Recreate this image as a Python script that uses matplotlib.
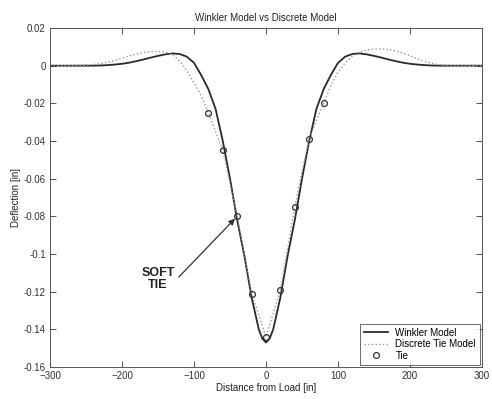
"""
Winkler foundation model vs discrete tie model: rail deflection under a point load
"""

import matplotlib
matplotlib.use("Agg")
import matplotlib.pyplot as plt
from matplotlib.ticker import FuncFormatter

plt.rcParams['font.family'] = ['Liberation Sans', 'DejaVu Sans']

# Winkler model (continuous support)
winkler_x = [-300, -290, -280, -270, -260, -250, -240, -230, -220, -210,
             -200, -190, -180, -170, -160, -150, -140, -130, -120, -110,
             -100, -90, -80, -70, -60, -50, -40, -30, -20, -10, -5,
             0, 5, 10, 20, 30, 40, 50, 60, 70, 80, 90,
             100, 110, 120, 130, 140, 150, 160, 170, 180, 190,
             200, 210, 220, 230, 240, 250, 260, 270, 280, 290, 300]
winkler_y = [0, 0, 0, 0, 0, 0, 0, 0.0001, 0.0003, 0.0006,
             0.0010, 0.0016, 0.0024, 0.0033, 0.0043, 0.0052, 0.0060, 0.0065, 0.0062, 0.0048,
             0.0015, -0.005, -0.0125, -0.023, -0.040, -0.060, -0.082, -0.101, -0.123, -0.140, -0.145,
             -0.147, -0.145, -0.140, -0.123, -0.101, -0.082, -0.060, -0.040, -0.023, -0.0125, -0.005,
             0.0015, 0.0048, 0.0062, 0.0065, 0.0060, 0.0052, 0.0043, 0.0033, 0.0024, 0.0016,
             0.0010, 0.0006, 0.0003, 0.0001, 0, 0, 0, 0, 0, 0, 0]

# discrete tie model (soft tie at -40 in)
discrete_x = list(range(-300, 301, 10))
discrete_y = [0, 0, 0, 0, 0.0001, 0.0003, 0.0006, 0.0011, 0.0018, 0.0028,
              0.0040, 0.0052, 0.0062, 0.0070, 0.0075, 0.0076, 0.0072, 0.0058, 0.0025, -0.0025,
              -0.009, -0.016, -0.025, -0.035, -0.045, -0.0625, -0.080, -0.100, -0.121, -0.1325,
              -0.144,
              -0.1315, -0.119, -0.097, -0.075, -0.056, -0.039, -0.029, -0.020, -0.0105, -0.0035,
              0.0015, 0.0050, 0.0072, 0.0083, 0.0088, 0.0089, 0.0086, 0.0078, 0.0067, 0.0053,
              0.0037, 0.0023, 0.0012, 0.0005, 0.0002, 0, 0, 0, 0, 0]

# tie deflections
tie_x = [-80, -60, -40, -20, 0, 20, 40, 60, 80]
tie_y = [-0.025, -0.045, -0.080, -0.121, -0.144, -0.119, -0.075, -0.039, -0.020]

x_ticks = [-300, -200, -100, 0, 100, 200, 300]
y_ticks = [-0.16, -0.14, -0.12, -0.1, -0.08, -0.06, -0.04, -0.02, 0, 0.02]

fig = plt.figure(figsize=(4.92, 3.99), dpi=100)
ax = fig.add_axes([0.1016, 0.0802, 0.8781, 0.8496])

ax.plot(winkler_x, winkler_y, color='#2a2a2a', linewidth=1.3, label='Winkler Model')
ax.plot(discrete_x, discrete_y, color='#9a9a9a', linewidth=1.0, linestyle=':',
        label='Discrete Tie Model')
ax.plot(tie_x, tie_y, linestyle='none', marker='o', markersize=4.2,
        markerfacecolor='none', markeredgecolor='#333333', markeredgewidth=0.9,
        label='Tie')

ax.set_xlim(-300, 300)
ax.set_ylim(-0.16, 0.02)
ax.set_xticks(x_ticks)
ax.set_yticks(y_ticks)
ax.yaxis.set_major_formatter(FuncFormatter(lambda v, p: '%g' % round(v, 2)))
ax.tick_params(direction='in', length=4, width=0.6, top=True, right=True,
               labelsize=7, colors='#333333', pad=3)
for side in ax.spines.values():
    side.set_linewidth(0.7)
    side.set_color('#555555')

ax.set_title('Winkler Model vs Discrete Model', fontsize=7, color='#222222', pad=5)
ax.set_xlabel('Distance from Load [in]', fontsize=7, color='#222222', labelpad=1)
ax.set_ylabel('Deflection [in]', fontsize=7, color='#222222', labelpad=2)

# soft tie callout: label, then the arrow from beside the label to the tie
ax.text(-150, -0.1133, 'SOFT\nTIE', fontsize=9, fontweight='bold', color='#222222',
        ha='center', va='center', linespacing=1.0)
ax.annotate('', xy=(-43, -0.0812), xytext=(-121, -0.1122),
            arrowprops=dict(arrowstyle='-|>', color='#333333', lw=0.9,
                            shrinkA=0, shrinkB=0, mutation_scale=9))

leg = ax.legend(loc='lower right', fontsize=7, frameon=True, fancybox=False,
                borderaxespad=0.25, handlelength=2.4, labelspacing=0.15,
                borderpad=0.4, handletextpad=0.8)
leg.get_frame().set_edgecolor('#444444')
leg.get_frame().set_linewidth(0.7)

fig.savefig('out.png', dpi=100)
